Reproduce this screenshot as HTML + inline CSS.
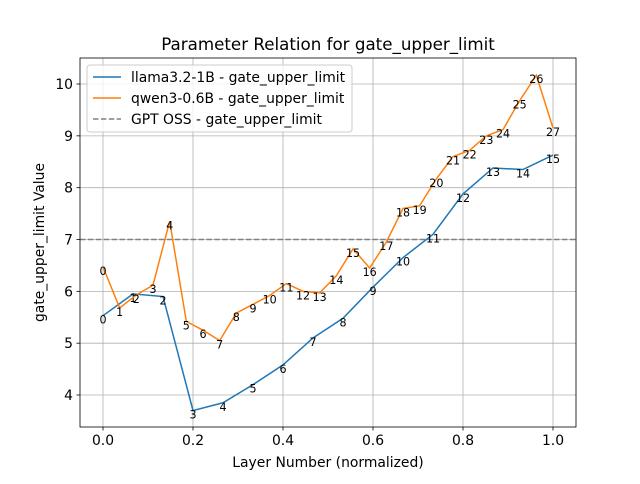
<!DOCTYPE html>
<html><head><meta charset="utf-8"><style>
body{margin:0;background:#fff;font-family:"DejaVu Sans","Liberation Sans",sans-serif}
</style></head><body>
<svg id="chart" width="640" height="480" xmlns="http://www.w3.org/2000/svg" font-family="DejaVu Sans, Liberation Sans, sans-serif"></svg>
<script>
const llamaValues=[5.53,5.95,5.9,3.7,3.85,4.2,4.58,5.1,5.48,6.08,6.65,7.1,7.88,8.38,8.35,8.63];
const qwenValues=[6.47,5.68,5.93,6.12,7.35,5.42,5.25,5.05,5.58,5.75,5.92,6.15,6.0,5.97,6.3,6.82,6.45,6.95,7.6,7.65,8.17,8.6,8.72,9.0,9.12,9.68,10.17,9.15];
const gptOssValue=7.0;
const xTicks=[0,0.2,0.4,0.6,0.8,1.0];
const xTickLabels=["0.0","0.2","0.4","0.6","0.8","1.0"];
const yTicks=[4,5,6,7,8,9,10];
const yTickLabels=["4","5","6","7","8","9","10"];

const svg=document.getElementById('chart');
const NS='http://www.w3.org/2000/svg';
const L=80,R=576,T=58,B=427;
const xs=v=>103+v*450;
const ys=v=>395-(v-4)*51.83;
function el(tag,attrs,parent){const e=document.createElementNS(NS,tag);for(const k in attrs)e.setAttribute(k,attrs[k]);(parent||svg).appendChild(e);return e;}

const grid=el('g',{});


xTicks.forEach((t,i)=>{
  el('line',{x1:xs(t),x2:xs(t),y1:T,y2:B,stroke:'#b0b0b0','stroke-width':0.8},grid);
  el('line',{x1:xs(t),x2:xs(t),y1:B,y2:B+3.5,stroke:'#000','stroke-width':0.8});
  const tx=el('text',{x:xs(t),y:B+18,'text-anchor':'middle','font-size':13.9});
  tx.textContent=xTickLabels[i];
  
  
});
yTicks.forEach((t,i)=>{
  el('line',{x1:L,x2:R,y1:ys(t),y2:ys(t),stroke:'#b0b0b0','stroke-width':0.8},grid);
  el('line',{x1:L-3.5,x2:L,y1:ys(t),y2:ys(t),stroke:'#000','stroke-width':0.8});
  const tx=el('text',{x:L-7,y:ys(t)+5,'text-anchor':'end','font-size':13.9});
  tx.textContent=yTickLabels[i];
  
  
});

const gl=el('line',{x1:L,x2:R,y1:ys(gptOssValue),y2:ys(gptOssValue),stroke:'#808080','stroke-width':1.5,'stroke-dasharray':'5.5,2.4'});



function series(vals,color,name){
  const n=vals.length-1;
  const pts=vals.map((v,i)=>xs(i/n)+','+ys(v)).join(' ');
  const p=el('polyline',{points:pts,fill:'none',stroke:color,'stroke-width':1.5});
  
  
  vals.forEach((v,i)=>{
    const t=el('text',{x:xs(i/n),y:ys(v)+8,'text-anchor':'middle','font-size':11.1});
    t.textContent=String(i);
    
    
  });
}
series(llamaValues,'#1f77b4','llama');
series(qwenValues,'#ff7f0e','qwen');

el('rect',{x:L,y:T,width:R-L,height:B-T,fill:'none',stroke:'#000','stroke-width':0.8});

const title=el('text',{x:(L+R)/2,y:50,'text-anchor':'middle','font-size':16.7});
title.textContent='Parameter Relation for gate_upper_limit';


const xt=el('text',{x:(L+R)/2,y:467,'text-anchor':'middle','font-size':13.9});
xt.textContent='Layer Number (normalized)';


const yt=el('text',{x:0,y:0,'text-anchor':'middle','font-size':13.9,transform:'translate(44,'+((T+B)/2)+') rotate(-90)'});
yt.textContent='gate_upper_limit Value';



const lg=el('g',{});


el('rect',{x:87,y:65,width:265,height:67,rx:3,fill:'#fff','fill-opacity':0.8,stroke:'#ccc'},lg);
[['llama3.2-1B - gate_upper_limit','#1f77b4',null],['qwen3-0.6B - gate_upper_limit','#ff7f0e',null],['GPT OSS - gate_upper_limit','#808080','5.5,2.4']].forEach((e,i)=>{
  const y=77+i*21;
  const a={x1:93,x2:121,y1:y,y2:y,stroke:e[1],'stroke-width':1.5};
  if(e[2])a['stroke-dasharray']=e[2];
  el('line',a,lg);
  const t=el('text',{x:131,y:y+5,'font-size':13.9},lg);
  t.textContent=e[0];
  
  
});
</script>
</body></html>
